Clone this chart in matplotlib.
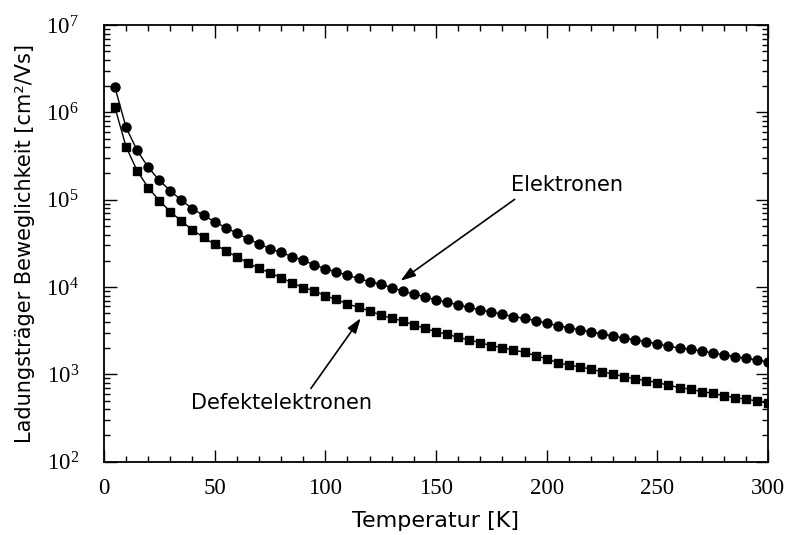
import numpy as np
import matplotlib.pyplot as plt
from matplotlib.ticker import MultipleLocator, LogLocator, LogFormatterMathtext, NullFormatter

# Temperatur in K
temp = list(range(5, 305, 5))

# Beweglichkeit der Elektronen [cm^2/Vs]
elektronen = [
    1.94e6, 6.76e5, 3.68e5, 2.36e5, 1.67e5, 1.27e5, 9.86e4, 7.91e4, 6.61e4, 5.62e4,
    4.80e4, 4.14e4, 3.56e4, 3.14e4, 2.75e4, 2.49e4, 2.24e4, 2.02e4, 1.80e4, 1.62e4,
    1.49e4, 1.36e4, 1.26e4, 1.15e4, 1.08e4, 9840, 9020, 8280, 7760, 7110,
    6700, 6240, 5860, 5470, 5190, 4880, 4580, 4390, 4120, 3850,
    3610, 3430, 3230, 3080, 2900, 2750, 2590, 2480, 2370, 2230,
    2110, 2000, 1940, 1850, 1760, 1670, 1600, 1530, 1460, 1390,
]

# Beweglichkeit der Defektelektronen [cm^2/Vs]
defekt = [
    1.14e6, 4.06e5, 2.15e5, 1.38e5, 9.77e4, 7.31e4, 5.71e4, 4.51e4, 3.72e4, 3.09e4,
    2.61e4, 2.22e4, 1.90e4, 1.64e4, 1.46e4, 1.28e4, 1.12e4, 9890, 9060, 7940,
    7210, 6430, 5850, 5330, 4790, 4400, 4090, 3680, 3370, 3080,
    2880, 2660, 2480, 2310, 2130, 2020, 1900, 1790, 1640, 1510,
    1360, 1280, 1220, 1150, 1070, 1010, 942, 887, 849, 805,
    752, 705, 676, 635, 608, 570, 541, 522, 495, 467,
]

fig = plt.figure(figsize=(7.87, 5.35), dpi=100)
ax = fig.add_axes([0.132, 0.137, 0.844, 0.816])

ax.semilogy(temp, elektronen, '-o', color='black', lw=1, ms=6.5)
ax.semilogy(temp, defekt, '-s', color='black', lw=1, ms=6)

ax.set_xlim(0, 300)
ax.set_ylim(1e2, 1e7)

ax.xaxis.set_major_locator(MultipleLocator(50))
ax.xaxis.set_minor_locator(MultipleLocator(10))
ax.yaxis.set_major_locator(LogLocator(base=10))
ax.yaxis.set_major_formatter(LogFormatterMathtext())
ax.yaxis.set_minor_locator(LogLocator(base=10, subs=np.arange(2, 10)))
ax.yaxis.set_minor_formatter(NullFormatter())

ax.tick_params(which='both', direction='in', top=True, right=True, width=1)
ax.tick_params(which='major', length=9, labelsize=16.5)
ax.tick_params(which='minor', length=4)
ax.tick_params(axis='x', which='major', pad=12)
ax.tick_params(axis='y', which='major', pad=18)
for lab in ax.get_xticklabels() + ax.get_yticklabels():
    lab.set_fontfamily('Liberation Serif')
for sp in ax.spines.values():
    sp.set_linewidth(1.3)

ax.set_xlabel('Temperatur [K]', fontsize=16, family='DejaVu Sans')
ax.xaxis.set_label_coords(0.5, -0.112)
ax.set_ylabel('Ladungsträger Beweglichkeit [cm²/Vs]', fontsize=15, family='DejaVu Sans')
ax.yaxis.set_label_coords(-0.104, 0.5)

arrow = dict(arrowstyle='-|>,head_length=0.9,head_width=0.3', color='black', lw=1.2,
             shrinkA=0, shrinkB=0)
ax.annotate('', xy=(134, 1.18e4), xytext=(185.5, 1.01e5), arrowprops=arrow)
ax.text(209, 1.48e5, 'Elektronen', fontsize=15, ha='center', va='center')
ax.annotate('', xy=(116, 4.4e3), xytext=(93.5, 6.9e2), arrowprops=arrow)
ax.text(80, 474, 'Defektelektronen', fontsize=15, ha='center', va='center')

fig.savefig('out.png', dpi=100)
